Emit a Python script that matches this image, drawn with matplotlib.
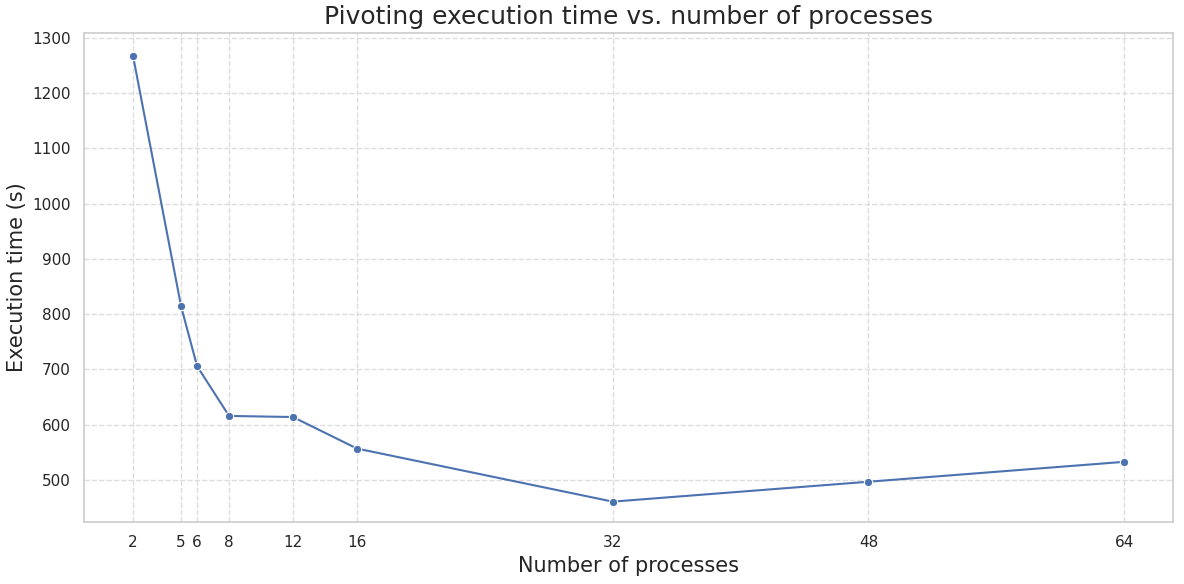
import matplotlib
matplotlib.use("Agg")
import matplotlib.pyplot as plt
import seaborn as sns

# processes vs execution time
processes = [2, 5, 6, 8, 12, 16, 32, 48, 64]
exec_time = [1266, 814, 706, 616, 614, 557, 461, 497, 533]

sns.set_theme(style="whitegrid")
fig, ax = plt.subplots(figsize=(11.84, 5.84), dpi=100)
fig.subplots_adjust(left=0.071, right=0.991, top=0.944, bottom=0.106)

sns.lineplot(x=processes, y=exec_time, marker="o", color="#4c72b0", ax=ax)

ax.set_xticks(processes)
ax.set_xlim(-1.07, 67.07)
ax.set_ylim(424, 1309)
ax.grid(True, linestyle="--", color="#dddddd", linewidth=1)
for s in ax.spines.values():
    s.set_color("#cccccc")
    s.set_linewidth(1.2)
ax.tick_params(labelsize=11)

ax.set_title("Pivoting execution time vs. number of processes", fontsize=18)
ax.set_xlabel("Number of processes", fontsize=15)
ax.set_ylabel("Execution time (s)", fontsize=15)

plt.savefig("out.png")
